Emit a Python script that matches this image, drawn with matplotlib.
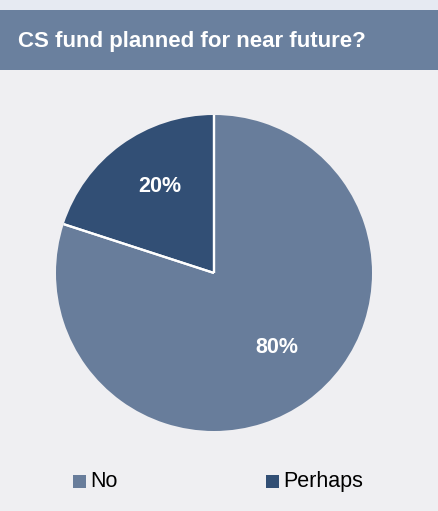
import matplotlib
matplotlib.use("Agg")
import matplotlib.pyplot as plt
import numpy as np
from matplotlib.patches import Rectangle

plt.rcParams["font.family"] = ["Liberation Sans", "DejaVu Sans"]

# ---- survey answers ----
TITLE = "CS fund planned for near future?"
LABELS = ["No", "Perhaps"]
SHARES = [80, 20]
COLORS = ["#687d9b", "#324f75"]

BG = "#efeff2"
BAR = "#6a809e"
STRIP = "#e6eaf2"

W, H = 438, 511
fig = plt.figure(figsize=(W / 100, H / 100), dpi=100, facecolor=BG)

# header strip + title bar
fig.patches.append(Rectangle((0, 1 - 10 / H), 1, 10 / H, transform=fig.transFigure,
                             facecolor=STRIP, edgecolor="none", zorder=0))
fig.patches.append(Rectangle((0, 1 - 70 / H), 1, 60 / H, transform=fig.transFigure,
                             facecolor=BAR, edgecolor="none", zorder=0))
fig.text(18 / W, 1 - 42 / H, TITLE, color="white", fontsize=16, fontweight="bold",
         ha="left", va="center")

# pie
cx, cy, r = 214, 273, 158
ax = fig.add_axes([(cx - r) / W, 1 - (cy + r) / H, 2 * r / W, 2 * r / H])
ax.set_facecolor(BG)
wedges, _, autotexts = ax.pie(
    SHARES, colors=COLORS, startangle=90, counterclock=False,
    autopct="%d%%", pctdistance=0.63, radius=1,
    wedgeprops=dict(edgecolor="none"),
    textprops=dict(color="white", fontsize=15.5, fontweight="bold"))

# white separators only along the radial edges
for w in wedges:
    for ang in (w.theta1, w.theta2):
        a = np.deg2rad(ang)
        ax.plot([0, np.cos(a)], [0, np.sin(a)], color="white", lw=1.6,
                solid_capstyle="butt", zorder=3)

# nudge the percentage labels a touch up and right
for t in autotexts:
    x, y = t.get_position()
    t.set_position((x + 0.028, y + 0.035))
    t.set_zorder(4)

ax.set_xlim(-1, 1)
ax.set_ylim(-1, 1)
ax.set_aspect("equal")
ax.axis("off")

# legend
leg_x = [73, 266]
for lx, lab, col in zip(leg_x, LABELS, COLORS):
    fig.patches.append(Rectangle((lx / W, 1 - 488 / H), 13 / W, 13 / H,
                                 transform=fig.transFigure, facecolor=col,
                                 edgecolor="none"))
    fig.text((lx + 17) / W, 1 - 481 / H, lab, color="black", fontsize=15.5,
             ha="left", va="center")

fig.savefig("out.png", dpi=100, facecolor=BG)
